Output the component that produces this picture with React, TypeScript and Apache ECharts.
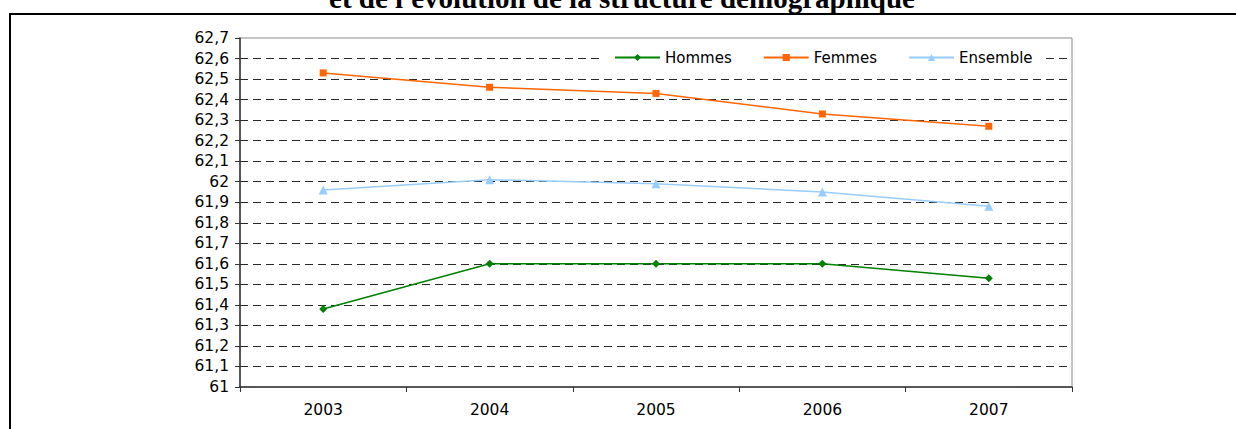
import React, { useEffect, useRef } from "react";
import * as echarts from "echarts";

const years = ["2003", "2004", "2005", "2006", "2007"];
const hommes = [61.38, 61.6, 61.6, 61.6, 61.53];
const femmes = [62.53, 62.46, 62.43, 62.33, 62.27];
const ensemble = [61.96, 62.01, 61.99, 61.95, 61.88];
const titleText = "et de l'évolution de la structure démographique";

const FONT = "DejaVu Sans";

export default function App() {
  const ref = useRef<HTMLDivElement>(null);
  useEffect(() => {
    if (!ref.current) return;
    const chart = echarts.init(ref.current, null, { renderer: "svg" });
    const gridColors: string[] = [];
    for (let i = 0; i <= 17; i++) gridColors.push(i === 0 || i === 17 ? "transparent" : "#2a2a2a");
    chart.setOption({
      animation: false,
      backgroundColor: "#fff",
      graphic: [
        {
          type: "rect",
          shape: { x: 10, y: 14, width: 1400, height: 600 },
          style: { fill: "none", stroke: "#000", lineWidth: 2 },
          silent: true,
        },
        {
          type: "text",
          x: 622,
          y: -2,
          style: {
            text: titleText,
            font: 'bold 29px "Liberation Serif"',
            fill: "#000",
            textAlign: "center",
            textVerticalAlign: "middle",
          },
        },
      ],
      legend: {
        left: 604,
        top: 46,
        padding: [4, 10, 4, 10],
        itemGap: 31,
        itemWidth: 45,
        itemHeight: 9,
        backgroundColor: "#fff",
        textStyle: { fontFamily: FONT, fontSize: 15, color: "#000" },
        data: ["Hommes", "Femmes", "Ensemble"],
      },
      grid: {
        left: 240,
        right: 164,
        top: 38,
        bottom: 42,
        show: true,
        borderColor: "#8c8c8c",
        borderWidth: 1,
        containLabel: false,
      },
      xAxis: {
        type: "category",
        data: years,
        boundaryGap: true,
        axisLine: { lineStyle: { color: "#333", width: 1.5 } },
        axisTick: { show: true, length: 5, lineStyle: { color: "#333" } },
        axisLabel: { fontFamily: FONT, fontSize: 15.5, color: "#000", margin: 15 },
        splitLine: { show: false },
      },
      yAxis: {
        type: "value",
        min: 61,
        max: 62.7,
        interval: 0.1,
        axisLine: { show: true, lineStyle: { color: "#333", width: 1.5 } },
        axisTick: { show: true, length: 5, lineStyle: { color: "#333" } },
        axisLabel: {
          fontFamily: FONT,
          fontSize: 15.5,
          color: "#000",
          margin: 11,
          formatter: (v: number) => String(Math.round(v * 10) / 10).replace(".", ","),
        },
        splitLine: {
          show: true,
          lineStyle: { color: gridColors, type: [8, 5], width: 1 },
        },
      },
      series: [
        {
          name: "Hommes",
          type: "line",
          data: hommes,
          symbol: "diamond",
          symbolSize: 8,
          showSymbol: true,
          itemStyle: { color: "#008000" },
          lineStyle: { color: "#008000", width: 1.5 },
        },
        {
          name: "Femmes",
          type: "line",
          data: femmes,
          symbol: "rect",
          symbolSize: 7,
          showSymbol: true,
          itemStyle: { color: "#ff6600" },
          lineStyle: { color: "#ff6600", width: 1.5 },
        },
        {
          name: "Ensemble",
          type: "line",
          data: ensemble,
          symbol: "triangle",
          symbolSize: 9,
          showSymbol: true,
          itemStyle: { color: "#99ccff" },
          lineStyle: { color: "#99ccff", width: 1.5 },
        },
      ],
    });
    return () => chart.dispose();
  }, []);
  return (
    <div
      ref={ref}
      style={{ position: "absolute", left: 0, top: 0, width: 1236, height: 429 }}
    />
  );
}
